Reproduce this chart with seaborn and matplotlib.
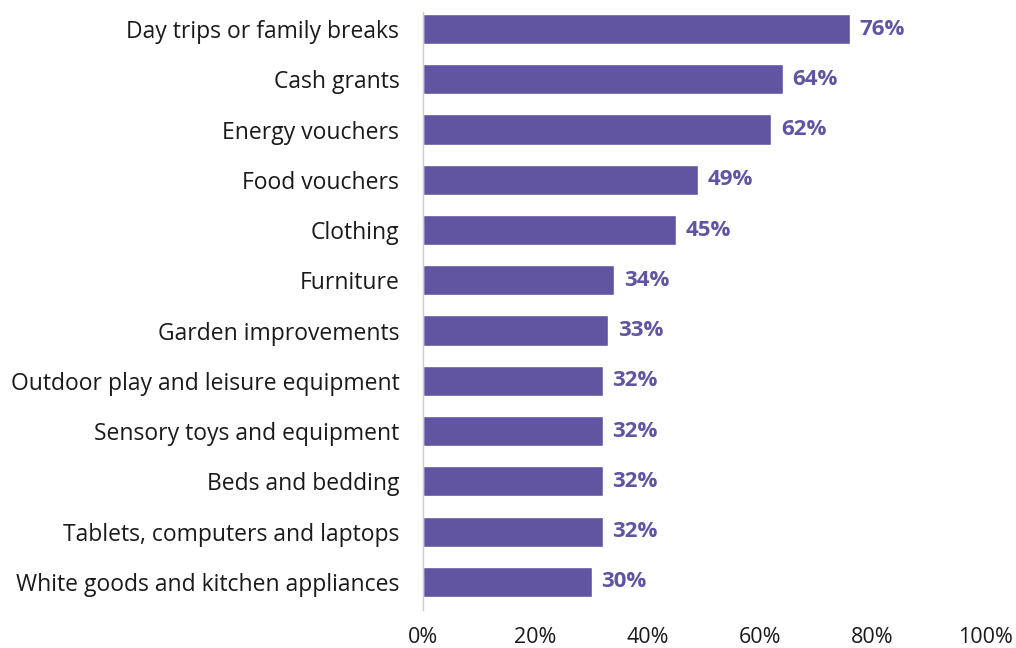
import matplotlib
matplotlib.use("Agg")
import matplotlib.pyplot as plt
import pandas as pd
import seaborn as sns

# data
categories = ["Day trips or family breaks", "Cash grants", "Energy vouchers",
              "Food vouchers", "Clothing", "Furniture", "Garden improvements",
              "Outdoor play and leisure equipment", "Sensory toys and equipment",
              "Beds and bedding", "Tablets, computers and laptops",
              "White goods and kitchen appliances"]
values = [76, 64, 62, 49, 45, 34, 33, 32, 32, 32, 32, 30]
xticks = [0, 20, 40, 60, 80, 100]

purple = "#6155A2"

sns.set_style("white")
plt.rcParams["font.family"] = ["Open Sans", "DejaVu Sans"]

df = pd.DataFrame({"category": categories, "value": values})

fig = plt.figure(figsize=(10.16, 6.48), dpi=100)
ax = fig.add_axes([0.4163, 0.0586, 0.5532, 0.923])
sns.barplot(data=df, y="category", x="value", orient="h", color=purple,
            width=0.6, saturation=1, ax=ax)

ax.bar_label(ax.containers[0], labels=[f"{v}%" for v in values], padding=7,
             color=purple, fontsize=16, fontweight="bold")

ax.set_xlim(0, 100)
ax.set_ylim(len(categories) - 0.44, -0.34)
ax.set_xticks(xticks)
ax.set_xticklabels([f"{t}%" for t in xticks], fontsize=15.5, color="#1a1a1a")
ax.tick_params(axis="x", length=0, pad=12)
ax.tick_params(axis="y", length=0, pad=17, labelsize=16.5, labelcolor="#1a1a1a")
ax.set_xlabel("")
ax.set_ylabel("")
for s in ["top", "right", "bottom"]:
    ax.spines[s].set_visible(False)
ax.spines["left"].set_color("#cccccc")
ax.spines["left"].set_linewidth(1)

fig.savefig("out.png", dpi=100)
